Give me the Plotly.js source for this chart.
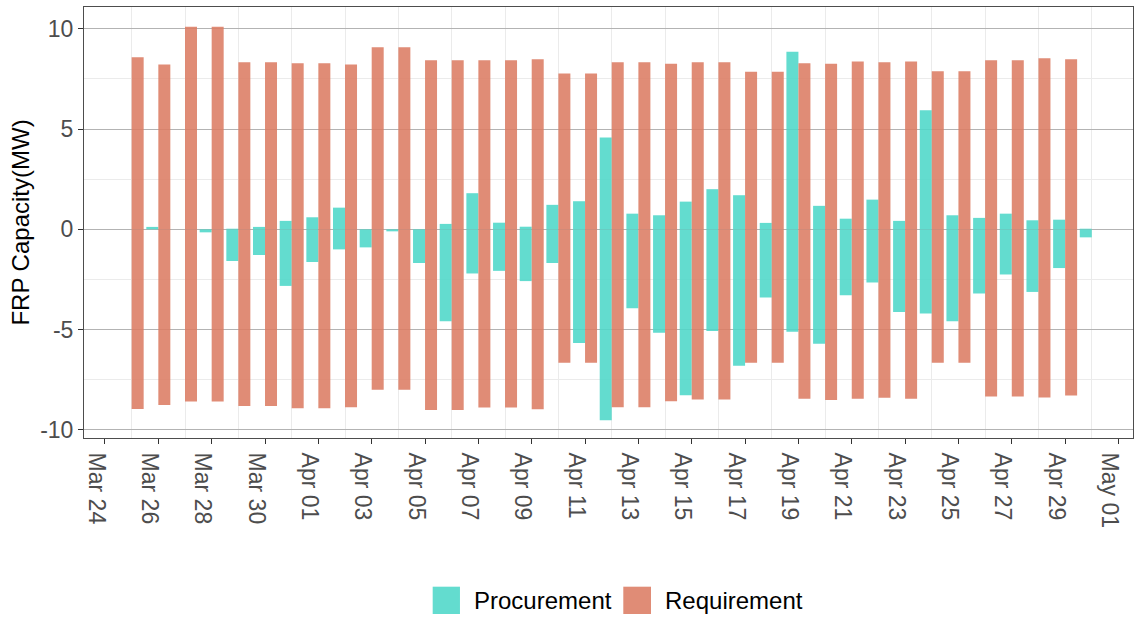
<!DOCTYPE html>
<html>
<head>
<meta charset="utf-8">
<script src="https://cdn.plot.ly/plotly-3.0.1.min.js"></script>
<style>html,body{margin:0;padding:0;background:#fff;}#chart{width:1135px;height:618px;}</style>
</head>
<body>
<div id="chart"></div>
<script>
// ---- data ----
const dates = [
  '2021-03-25','2021-03-26','2021-03-27','2021-03-28','2021-03-29','2021-03-30','2021-03-31',
  '2021-04-01','2021-04-02','2021-04-03','2021-04-04','2021-04-05','2021-04-06','2021-04-07',
  '2021-04-08','2021-04-09','2021-04-10','2021-04-11','2021-04-12','2021-04-13','2021-04-14',
  '2021-04-15','2021-04-16','2021-04-17','2021-04-18','2021-04-19','2021-04-20','2021-04-21',
  '2021-04-22','2021-04-23','2021-04-24','2021-04-25','2021-04-26','2021-04-27','2021-04-28',
  '2021-04-29','2021-04-30'
];
const procurementUp = [
  null, 0.12, null, null, 0.03, 0.12, 0.42,
  0.60, 1.08, null, null, null, 0.27, 1.80,
  0.33, 0.13, 1.22, 1.40, 4.58, 0.78, 0.70,
  1.38, 2.00, 1.70, 0.32, 8.85, 1.17, 0.53,
  1.48, 0.42, 5.93, 0.70, 0.57, 0.78, 0.45,
  0.48, 0.03
];
const procurementDown = [
  null, null, null, -0.15, -1.58, -1.28, -2.82,
  -1.63, -1.00, -0.90, -0.10, -1.68, -4.58, -2.20,
  -2.07, -2.58, -1.68, -5.67, -9.52, -3.93, -5.15,
  -8.27, -5.07, -6.80, -3.40, -5.10, -5.70, -3.28,
  -2.65, -4.12, -4.20, -4.58, -3.20, -2.25, -3.12,
  -1.93, -0.40
];
const requirementUp = [
  8.57, 8.22, 10.10, 10.10, 8.33, 8.33, 8.28,
  8.28, 8.22, 9.08, 9.08, 8.42, 8.42, 8.42,
  8.42, 8.47, 7.77, 7.77, 8.33, 8.33, 8.25,
  8.33, 8.33, 7.85, 7.85, 8.28, 8.25, 8.37,
  8.33, 8.37, 7.88, 7.88, 8.42, 8.42, 8.52,
  8.47, null
];
const requirementDown = [
  -8.95, -8.75, -8.58, -8.58, -8.80, -8.80, -8.92,
  -8.92, -8.87, -8.00, -8.00, -9.00, -9.00, -8.88,
  -8.88, -8.97, -6.65, -6.65, -8.87, -8.87, -8.57,
  -8.48, -8.48, -6.65, -6.65, -8.45, -8.50, -8.45,
  -8.40, -8.45, -6.65, -6.65, -8.33, -8.33, -8.38,
  -8.28, null
];
const seriesNames = ['Procurement', 'Requirement'];
const yTitle = 'FRP Capacity(MW)';
const yTickVals = [-10, -5, 0, 5, 10];
const yTickText = ['-10', '-5', '0', '5', '10'];

// ---- style ----
const DAY = 86400000;
const barW = 0.45 * DAY;
const colProc = '#4dd7c8';
const colReq = '#dc7c63';
const op = 0.88;
const font = 'Liberation Sans, Arial, Helvetica, sans-serif';

function barTrace(y, name, color, offset) {
  return {
    type: 'bar', x: dates, y: y, name: name,
    offset: offset, width: barW,
    marker: {color: color, opacity: op, line: {width: 0}},
    showlegend: false, hoverinfo: 'x+y+name'
  };
}

const traces = [
  barTrace(procurementUp, seriesNames[0], colProc, -barW),
  barTrace(procurementDown, seriesNames[0], colProc, -barW),
  barTrace(requirementUp, seriesNames[1], colReq, 0),
  barTrace(requirementDown, seriesNames[1], colReq, 0)
];

// custom legend (big square keys like the reference)
const legendItems = [
  {name: seriesNames[0], color: colProc, x0: 0.3324, x1: 0.3584, tx: 0.3696},
  {name: seriesNames[1], color: colReq, x0: 0.5141, x1: 0.5405, tx: 0.5522}
];
const shapes = legendItems.map(it => ({
  type: 'rect', xref: 'paper', yref: 'paper',
  x0: it.x0, x1: it.x1, y0: -0.4084, y1: -0.3450,
  fillcolor: it.color, opacity: op, line: {width: 0}
}));
const annotations = legendItems.map(it => ({
  xref: 'paper', yref: 'paper', x: it.tx, y: -0.377,
  xanchor: 'left', yanchor: 'middle', showarrow: false,
  text: it.name, font: {family: font, size: 24, color: '#000'}
}));

const layout = {
  width: 1135, height: 618,
  margin: {l: 84, r: 2, t: 7, b: 180, pad: 0},
  paper_bgcolor: '#fff', plot_bgcolor: '#fff',
  font: {family: font},
  barmode: 'overlay',
  xaxis: {
    type: 'date',
    range: ['2021-03-23 05:07', '2021-05-01 13:05'],
    tick0: '2021-03-24', dtick: 2 * DAY, tickformat: '%b %d',
    tickangle: 90, ticklabelshift: -9, ticklabelstandoff: 4,
    ticks: 'outside', ticklen: 5, tickwidth: 1, tickcolor: '#333',
    tickfont: {family: font, size: 23, color: '#4d4d4d'},
    showgrid: false,
    minor: {tick0: '2021-03-25', dtick: 2 * DAY, showgrid: true, gridcolor: '#ebebeb', gridwidth: 1, ticks: ''},
    showline: true, mirror: true, linecolor: '#4d4d4d', linewidth: 1,
    zeroline: false, fixedrange: true
  },
  yaxis: {
    range: [-10.4, 11.08],
    tickmode: 'array', tickvals: yTickVals, ticktext: yTickText,
    ticks: 'outside', ticklen: 5, tickwidth: 1, tickcolor: '#333',
    tickfont: {family: font, size: 23, color: '#4d4d4d'},
    showgrid: true, gridcolor: '#b3b3b3', gridwidth: 1,
    minor: {tick0: 2.5, dtick: 5, showgrid: true, gridcolor: '#ebebeb', gridwidth: 1, ticks: ''},
    showline: true, mirror: true, linecolor: '#4d4d4d', linewidth: 1,
    zeroline: false, fixedrange: true,
    title: {text: yTitle, font: {family: font, size: 24, color: '#000'}, standoff: 3}
  },
  shapes: shapes,
  annotations: annotations,
  showlegend: false
};

Plotly.newPlot('chart', traces, layout, {displayModeBar: false, staticPlot: true});
</script>
</body>
</html>
